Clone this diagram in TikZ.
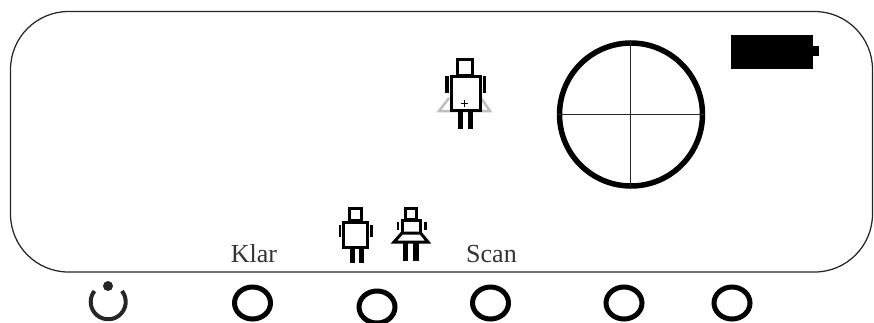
\documentclass[tikz,border=0pt]{standalone}
\usepackage{fontspec}
\setmainfont{Liberation Serif}
\tikzset{
  thinline/.style={line width=0.025cm, black!85},
  bodyline/.style={line width=0.06cm, black, fill=white},
  limb/.style={fill=black},
  ringbutton/.style={line width=0.1cm, black},
  keylabel/.style={font=\fontsize{14.8pt}{16pt}\selectfont, black!80, anchor=base, inner sep=0pt}
}
\begin{document}
\begin{tikzpicture}[x=0.02cm,y=-0.02cm]
\useasboundingbox (0,0) rectangle (874,322);
% panel
\draw[thinline, rounded corners=1.16cm] (10.5,11.5) rectangle (872.5,272);
% target
\draw[line width=0.11cm] (631,114.5) circle[radius=1.43cm];
\draw[thinline] (557,114.5) -- (705,114.5);
\draw[thinline] (630.5,40) -- (630.5,189);
% battery
\fill (731,35) rectangle (813,69);
\fill (813,46) rectangle (819,56);
% selected figure
\draw[line width=0.05cm, black!25] (449,98) -- (439,111) -- (490,111) -- (481,98);
\draw[bodyline] (457,59) rectangle (472,75);
\draw[bodyline] (451,76.5) rectangle (480,110.5);
\fill[limb] (445,76) rectangle (448.5,93);
\fill[limb] (483,76) rectangle (485.5,93);
\fill[limb] (458,112) rectangle (463,129);
\fill[limb] (468,112) rectangle (473,129);
\draw[line width=0.03cm] (461,103.5) -- (468,103.5) (464.5,100) -- (464.5,107);
% figure without skirt
\draw[bodyline] (349,208) rectangle (361,220);
\draw[bodyline] (343,222) rectangle (367,247);
\fill[limb] (338.5,225) rectangle (341,237);
\fill[limb] (370,225) rectangle (372.5,237);
\fill[limb] (350,248) rectangle (355,263);
\fill[limb] (359,248) rectangle (364,263);
% figure with skirt
\draw[bodyline] (405.5,208) rectangle (416,219);
\draw[bodyline] (402,220) rectangle (420.5,233);
\draw[bodyline] (402,233) -- (420.5,233) -- (428,242) -- (394,242) -- cycle;
\fill[limb] (396.5,222) rectangle (399,230);
\fill[limb] (424,222) rectangle (426.5,230);
\fill[limb] (403,243) rectangle (408,261);
\fill[limb] (413,243) rectangle (419,261);
% labels
\node[keylabel] (klar) at (254,262) {Klar};
\node[keylabel] (scan) at (491.5,262) {Scan};
% buttons
\foreach \bx/\by in {252.5/303, 377/307, 490.5/303, 624/303, 732/303}
  \draw[ringbutton] (\bx,\by) circle[x radius=18, y radius=16];
% power button
\draw[line width=0.08cm, black!85] (122,291) arc[start angle=38, end angle=-218, radius=0.35cm];
\fill[black!85] (108,286) circle[radius=0.1cm];
\end{tikzpicture}
\end{document}
